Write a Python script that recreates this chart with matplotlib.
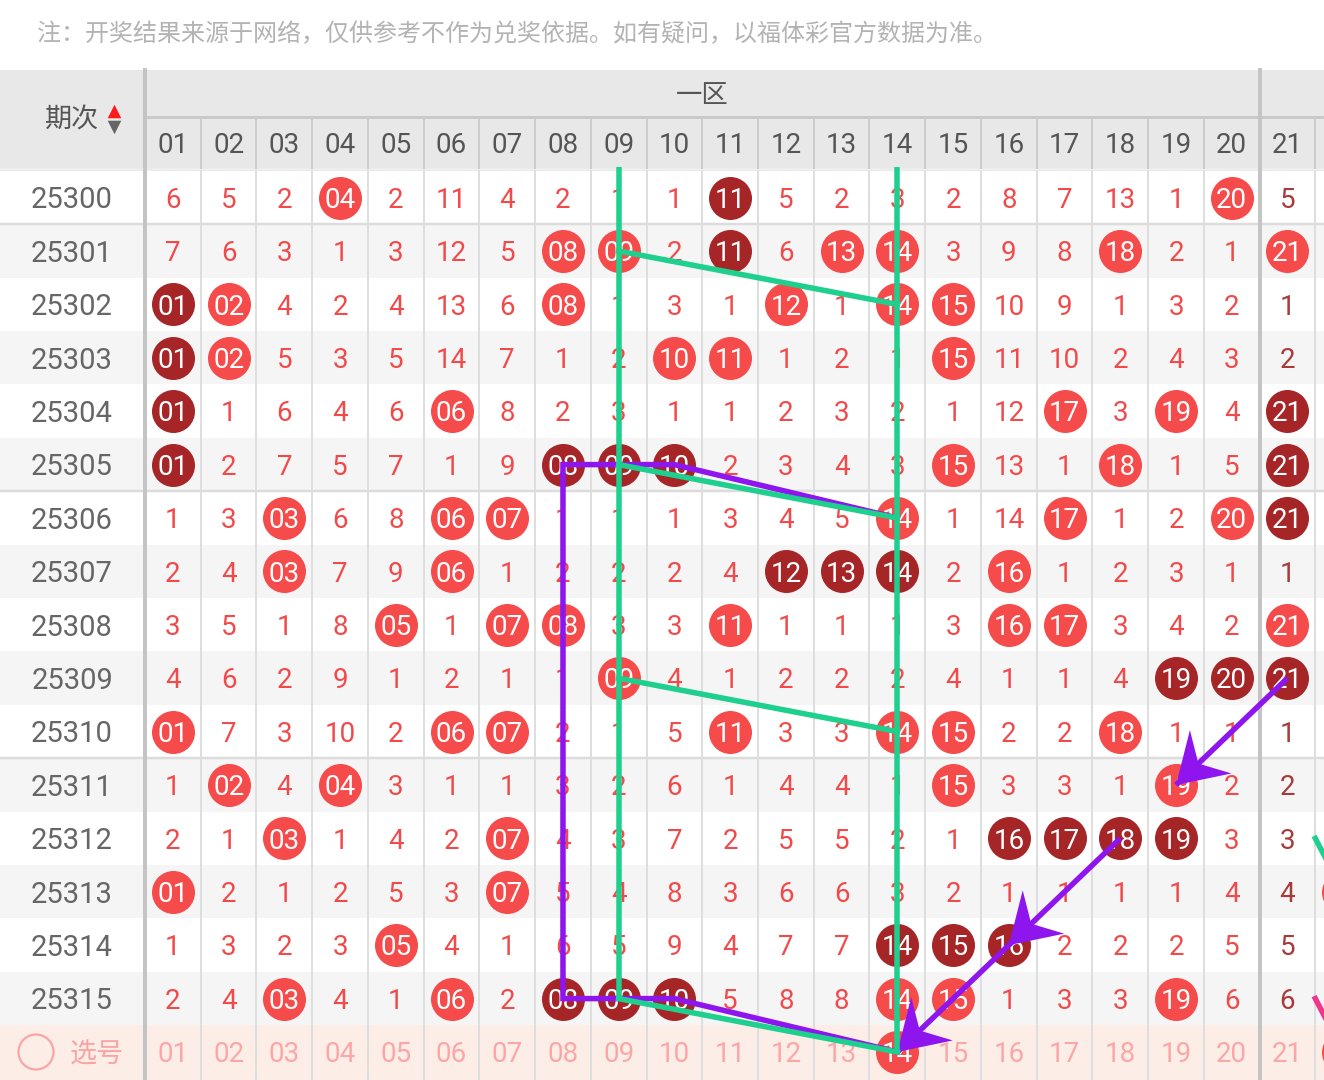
import matplotlib
matplotlib.use("Agg")
import matplotlib.pyplot as plt
from matplotlib.patches import Rectangle, Polygon
import numpy as np

# ---------------- data ----------------
note = "注：开奖结果来源于网络，仅供参考不作为兑奖依据。如有疑问，以福体彩官方数据为准。"
zone_label = "一区"
period_label = "期次"
select_label = "选号"
columns = ["01", "02", "03", "04", "05", "06", "07", "08", "09", "10", "11",
           "12", "13", "14", "15", "16", "17", "18", "19", "20", "21"]
periods = ["25300", "25301", "25302", "25303", "25304", "25305", "25306", "25307",
           "25308", "25309", "25310", "25311", "25312", "25313", "25314", "25315"]

# omission values; 0 = drawn number (shown as a ball)
grid = [
    [6, 5, 2, 0, 2, 11, 4, 2, 1, 1, 0, 5, 2, 3, 2, 8, 7, 13, 1, 0, 5],
    [7, 6, 3, 1, 3, 12, 5, 0, 0, 2, 0, 6, 0, 0, 3, 9, 8, 0, 2, 1, 0],
    [0, 0, 4, 2, 4, 13, 6, 0, 1, 3, 1, 0, 1, 0, 0, 10, 9, 1, 3, 2, 1],
    [0, 0, 5, 3, 5, 14, 7, 1, 2, 0, 0, 1, 2, 1, 0, 11, 10, 2, 4, 3, 2],
    [0, 1, 6, 4, 6, 0, 8, 2, 3, 1, 1, 2, 3, 2, 1, 12, 0, 3, 0, 4, 0],
    [0, 2, 7, 5, 7, 1, 9, 0, 0, 0, 2, 3, 4, 3, 0, 13, 1, 0, 1, 5, 0],
    [1, 3, 0, 6, 8, 0, 0, 1, 1, 1, 3, 4, 5, 0, 1, 14, 0, 1, 2, 0, 0],
    [2, 4, 0, 7, 9, 0, 1, 2, 2, 2, 4, 0, 0, 0, 2, 0, 1, 2, 3, 1, 1],
    [3, 5, 1, 8, 0, 1, 0, 0, 3, 3, 0, 1, 1, 1, 3, 0, 0, 3, 4, 2, 0],
    [4, 6, 2, 9, 1, 2, 1, 1, 0, 4, 1, 2, 2, 2, 4, 1, 1, 4, 0, 0, 0],
    [0, 7, 3, 10, 2, 0, 0, 2, 1, 5, 0, 3, 3, 0, 0, 2, 2, 0, 1, 1, 1],
    [1, 0, 4, 0, 3, 1, 1, 3, 2, 6, 1, 4, 4, 1, 0, 3, 3, 1, 0, 2, 2],
    [2, 1, 0, 1, 4, 2, 0, 4, 3, 7, 2, 5, 5, 2, 1, 0, 0, 0, 0, 3, 3],
    [0, 2, 1, 2, 5, 3, 0, 5, 4, 8, 3, 6, 6, 3, 2, 1, 1, 1, 1, 4, 4],
    [1, 3, 2, 3, 0, 4, 1, 6, 5, 9, 4, 7, 7, 0, 0, 0, 2, 2, 2, 5, 5],
    [2, 4, 0, 4, 1, 0, 2, 0, 0, 0, 5, 8, 8, 0, 0, 1, 3, 3, 0, 6, 6],
]
# drawn numbers shown with the dark ball
dark_balls = [[11], [11], [1], [1], [1, 21], [1, 8, 9, 10, 21], [21], [12, 13, 14],
              [], [19, 20, 21], [], [], [16, 17, 18, 19], [], [14, 15, 16], [8, 9, 10]]
selected = [14]
zone2_balls = [(22, 13), (22, 16)]

# overlay lines: (column, row index); row 16 = selection row
green_verticals = [(9, 15), (14, 16)]
green_links = [[(9, 1), (14, 2)], [(9, 5), (14, 6)], [(9, 9), (14, 10)], [(9, 15), (14, 16)]]
purple_path = [(14, 6), (10, 5), (8, 5), (8, 15), (10, 15), (14, 16)]
purple_arrows = [[(21, 9), (19, 11)], [(18, 12), (16, 14)], [(16, 14), (14, 16)]]
zone2_green = [(21.5, 12), (22, 13)]
zone2_pink = [(21.5, 15), (22, 16)]

# ---------------- layout (pixels) ----------------
W, H = 1324, 1080
COL0, CW = 145.0, 55.73
ROW0, RH = 170.9, 53.4
PX = 0.72  # points per pixel at dpi 100
TDY = 2.8 / RH  # small downward nudge for text


def x_of(px):
    return 0.5 + (px - COL0) / CW


def y_of(py):
    return (py - ROW0) / RH - 0.5


fig = plt.figure(figsize=(W / 100, H / 100), dpi=100)
fig.patch.set_facecolor("white")
plt.rcParams["font.family"] = ["Roboto", "Noto Sans CJK SC", "DejaVu Sans"]
ax = fig.add_axes([0, 0, 1, 1])
ax.set_xlim(x_of(0), x_of(W))
ax.set_ylim(y_of(H), y_of(0))
ax.axis("off")

XL, XR = x_of(0), x_of(W)
nrows = len(periods)

# header band
ax.add_patch(Rectangle((XL, y_of(70)), XR - XL, y_of(168) - y_of(70),
                       facecolor="#e8e8e8", edgecolor="none", zorder=0))
# row backgrounds
for i in range(nrows):
    c = "#ffffff" if i % 2 == 0 else "#f5f5f5"
    ax.add_patch(Rectangle((XL, i - 0.5), XR - XL, 1, facecolor=c, edgecolor="none", zorder=0))
ax.add_patch(Rectangle((XL, nrows - 0.5), XR - XL, 1.2, facecolor="#fdede7",
                       edgecolor="none", zorder=0))

# grid lines
ax.plot([XL, XR], [y_of(169.5), y_of(169.5)], color="#ececec", lw=3 * PX, zorder=1)
ax.plot([x_of(COL0), XR], [y_of(117), y_of(117)], color="#c9c9c9", lw=3 * PX, zorder=1)
for i in (0, 5, 10):
    ax.plot([XL, XR], [i + 0.5, i + 0.5], color="#dcdcdc", lw=2.5 * PX, zorder=1)
for k in range(1, 22):
    if k == 20:
        continue
    xk = k + 0.5
    ax.plot([xk, xk], [y_of(118), y_of(168)], color="#cccccc", lw=2 * PX, zorder=1)
    ax.plot([xk, xk], [y_of(171), y_of(H)], color="#dedede", lw=2 * PX, zorder=1)
for xk in (0.5, 20.5):
    ax.plot([xk, xk], [y_of(70), y_of(H)], color="#c4c4c4", lw=4 * PX, zorder=1)

# note
ax.text(x_of(37), y_of(35), note, fontsize=17.3, color="#b3b3b3",
        ha="left", va="center", zorder=5)

# header text
ax.text(10.5, y_of(96), zone_label, fontsize=19, color="#555555",
        ha="center", va="center", zorder=5)
ax.text(x_of(72), y_of(120), period_label, fontsize=19.5, color="#555555",
        ha="center", va="center", zorder=5)
ax.scatter([x_of(114)], [y_of(111)], marker="^", s=95, color="#ff1a1a",
           linewidths=0, zorder=5)
ax.scatter([x_of(114)], [y_of(127)], marker="v", s=95, color="#666666",
           linewidths=0, zorder=5)
for k, lab in enumerate(columns, start=1):
    ax.text(k, y_of(143) + TDY, lab, fontsize=20, color="#555555",
            ha="center", va="center", zorder=5)

BALL_S = (43 * PX) ** 2
LIGHT, DARK = "#f64b4b", "#a62527"
TXT_RED, TXT_21 = "#f24a4a", "#a83a3a"

# rows
for i, per in enumerate(periods):
    ax.text(x_of(72), i + TDY, per, fontsize=21, color="#666666",
            ha="center", va="center", zorder=5)
    for k in range(1, 22):
        v = grid[i][k - 1]
        if v == 0:
            col = DARK if k in dark_balls[i] else LIGHT
            ax.scatter([k], [i], s=BALL_S, color=col, linewidths=0, zorder=3)
            ax.text(k, i + TDY, columns[k - 1], fontsize=20, color="white",
                    ha="center", va="center", zorder=4)
        else:
            ax.text(k, i + TDY, str(v), fontsize=20, color=TXT_21 if k == 21 else TXT_RED,
                    ha="center", va="center", zorder=4)

# selection row
ys = nrows
ax.scatter([x_of(36)], [ys], s=(35 * PX) ** 2, facecolors="none",
           edgecolors="#f9a5a5", linewidths=2.2 * PX, zorder=4)
ax.text(x_of(97), ys + TDY, select_label, fontsize=19.5, color="#f9a3a3",
        ha="center", va="center", zorder=5)
for k, lab in enumerate(columns, start=1):
    if k in selected:
        ax.scatter([k], [ys], s=BALL_S, color=LIGHT, linewidths=0, zorder=3)
        ax.text(k, ys + TDY, lab, fontsize=20, color="white", ha="center", va="center", zorder=4)
    else:
        ax.text(k, ys + TDY, lab, fontsize=20, color="#fba7a7", ha="center", va="center", zorder=4)

# partial second zone
for (cx, cy) in zone2_balls:
    ax.scatter([cx], [cy], s=BALL_S, color=LIGHT, linewidths=0, zorder=3)

GREEN, PURPLE = "#1ecf8e", "#8e15ee"
LW = 5.5 * PX

# purple path
px_ = [p[0] for p in purple_path]
py_ = [p[1] for p in purple_path]
ax.plot(px_, py_, color=PURPLE, lw=LW, zorder=6, solid_joinstyle="miter")


def arrow(p0, p1):
    ax.plot([p0[0], p1[0]], [p0[1], p1[1]], color=PURPLE, lw=LW, zorder=6,
            solid_capstyle="butt")
    # head in pixel space
    dxp = (p0[0] - p1[0]) * CW
    dyp = (p0[1] - p1[1]) * RH
    n = np.hypot(dxp, dyp)
    u = np.array([dxp, dyp]) / n
    pperp = np.array([-u[1], u[0]])
    tip = np.array([0.0, 0.0])
    b1 = u * 48 + pperp * 30
    notch = u * 31
    b2 = u * 48 - pperp * 30
    pts = [tip, b1, notch, b2]
    pts = [(p1[0] + q[0] / CW, p1[1] + q[1] / RH) for q in pts]
    ax.add_patch(Polygon(pts, closed=True, facecolor=PURPLE, edgecolor="none", zorder=6))


for a in purple_arrows:
    arrow(a[0], a[1])

# green lines
for (c, r_end) in green_verticals:
    ax.plot([c, c], [y_of(167), r_end], color=GREEN, lw=LW, zorder=7, solid_capstyle="butt")
for seg in green_links:
    ax.plot([seg[0][0], seg[1][0]], [seg[0][1], seg[1][1]], color=GREEN, lw=LW, zorder=7)

ax.plot([zone2_green[0][0], zone2_green[1][0]], [zone2_green[0][1], zone2_green[1][1]],
        color=GREEN, lw=LW, zorder=7)
ax.plot([zone2_pink[0][0], zone2_pink[1][0]], [zone2_pink[0][1], zone2_pink[1][1]],
        color="#f0368c", lw=LW, zorder=7)

fig.savefig("out.png", dpi=100, facecolor="white")
